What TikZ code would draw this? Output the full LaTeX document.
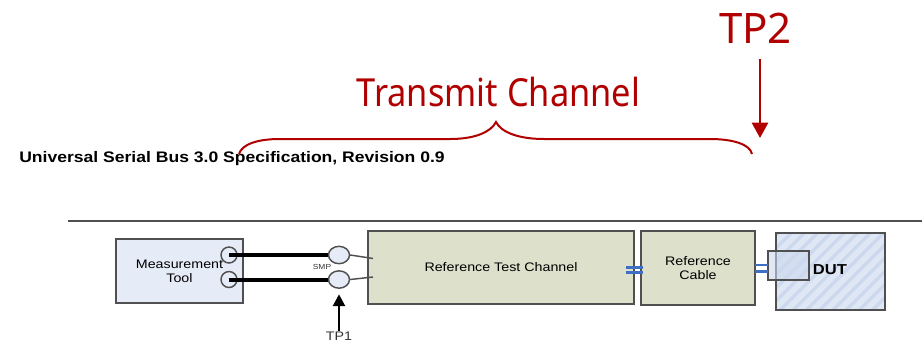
\documentclass[tikz,border=0pt]{standalone}
\usepackage{fontspec}
\setmainfont{Liberation Sans}
\newfontfamily\titlefont{Noto Sans}
\newfontfamily\narrowfont[FakeStretch=0.89]{Noto Sans}
\newfontfamily\widefont[FakeStretch=1.15]{Liberation Sans}
\usetikzlibrary{positioning, arrows.meta, patterns.meta, shapes.geometric}
\definecolor{rojo}{HTML}{B00000}
\definecolor{caja_azul}{HTML}{E6ECF7}
\definecolor{caja_verde}{HTML}{DDE1CB}
\definecolor{caja_dut}{HTML}{DFE7F5}
\definecolor{raya_dut}{HTML}{CBD8EE}
\definecolor{linea_gris}{HTML}{505050}
\definecolor{enlace_azul}{HTML}{3F6FC4}
\tikzset{
    box_tool/.style={rectangle, draw=linea_gris, fill=caja_azul, line width=1.1pt, inner sep=0pt, align=center, font=\widefont\fontsize{9.3}{10.5}\selectfont},
    box_canal/.style={rectangle, draw=linea_gris, fill=caja_verde, line width=1.1pt, inner sep=0pt, align=center, font=\widefont\fontsize{9.3}{10.5}\selectfont},
    box_dut/.style={rectangle, draw=linea_gris, line width=1.1pt, inner sep=0pt, preaction={fill=caja_dut}, pattern={Lines[angle=45, distance=7pt, line width=2.5pt]}, pattern color=raya_dut},
    port_tool/.style={circle, draw=linea_gris, line width=1.1pt, minimum size=12pt, inner sep=0pt},
    port_smp/.style={ellipse, draw=linea_gris, line width=1.1pt, fill=caja_azul, minimum width=15.75pt, minimum height=13pt, inner sep=0pt},
    titulo/.style={text=rojo, inner sep=0pt},
    etiqueta/.style={inner sep=0pt, text=black!80},
    cable/.style={draw=black, line width=3pt},
    hilo/.style={draw=linea_gris, line width=1.1pt},
    enlace/.style={draw=enlace_azul, line width=1.7pt},
    llave/.style={draw=rojo, line width=1.5pt},
    flecha/.style={draw=rojo, line width=2pt, -{Triangle[length=11.5pt, width=12pt]}},
    flecha_tp/.style={draw=black, line width=2pt, shorten >=4pt, -{Triangle[length=9pt, width=9pt]}}
}
\begin{document}
\begin{tikzpicture}[x=0.75pt, y=-0.75pt]
            \useasboundingbox (0,0) rectangle (922,351);

            % header
            \node[titulo, font=\titlefont\fontsize{31.5}{34}\selectfont] (tp2) at (755.5,28) {TP2};
            \node[titulo, anchor=base, font=\narrowfont\fontsize{29}{32}\selectfont] (channel) at (498.5,106) {Transmit Channel};
            \node[inner sep=0pt, anchor=west, font=\widefont\bfseries\fontsize{11.45}{13}\selectfont] (spec) at (19,158.5) {Universal Serial Bus 3.0 Specification, Revision 0.9};

            \coordinate (rule_a) at (68,221);
            \coordinate (rule_b) at (922,221);
            \draw[linea_gris, line width=1pt] (rule_a) -- (rule_b);

            % blocks
            \node[box_tool, minimum width=95pt, minimum height=48pt] (tool) at (179.5,271) {Measurement\\Tool};
            \node[box_canal, minimum width=199.5pt, minimum height=55pt] (canal) at (501,267.5) {Reference Test Channel};
            \node[box_canal, minimum width=85.5pt, minimum height=55.5pt] (cable_ref) at (698,268) {Reference\\Cable};
            \node[box_dut, minimum width=81.75pt, minimum height=57.75pt] (dut) at (830.5,271.5) {};
            \node[rectangle, draw=linea_gris, line width=1.1pt, fill=raya_dut, fill opacity=0.6, minimum width=30.75pt, minimum height=21.75pt, inner sep=0pt] (dut_in) at (788.5,265.5) {};
            \node[inner sep=0pt, font=\widefont\bfseries\fontsize{10.8}{12}\selectfont] (dut_label) at (830,270) {DUT};

            % ports
            \node[port_tool] (p1) at (229,255) {};
            \node[port_tool] (p2) at (229,279.5) {};
            \node[port_smp] (s1) at (339,255) {};
            \node[port_smp] (s2) at (339,279.5) {};
            \node[etiqueta, font=\widefont\fontsize{5.5}{6}\selectfont] (smp) at (322,267) {SMP};
            \node[etiqueta, font=\widefont\fontsize{9.3}{10}\selectfont] (tp1) at (339,336) {TP1};

            \coordinate (c1) at (373,258.5);
            \coordinate (c2) at (373,277);
            \draw[cable] (p1.center) -- (s1.west);
            \draw[cable] (p2.center) -- (s2.west);
            \draw[hilo] (s1.east) -- (c1);
            \draw[hilo] (s2.east) -- (c2);
            \draw[flecha_tp] (tp1.north) -- (s2.south);

            % blue links
            \coordinate (e1a) at (626,267.5);
            \coordinate (e1b) at (643,267.5);
            \coordinate (e2a) at (626,272.5);
            \coordinate (e2b) at (643,272.5);
            \coordinate (e3a) at (755,265);
            \coordinate (e3b) at (768,265);
            \coordinate (e4a) at (755,271.5);
            \coordinate (e4b) at (768,271.5);
            \draw[enlace] (e1a) -- (e1b);
            \draw[enlace] (e2a) -- (e2b);
            \draw[enlace] (e3a) -- (e3b);
            \draw[enlace] (e4a) -- (e4b);

            % brace and TP2 arrow
            \coordinate (b_left) at (239,154);
            \coordinate (b_mid) at (496,122);
            \coordinate (b_right) at (752,154);
            \coordinate (tp2_end) at (760,138);
            \coordinate (tp2_start) at (760,59);
            \draw[llave] (b_left) .. controls (242,144) and (258,139) .. (280,139) -- (450,139) .. controls (475,139) and (491,132) .. (b_mid) .. controls (501,132) and (518,139) .. (544,139) -- (710,139) .. controls (732,139) and (750,144) .. (b_right);
            \draw[flecha] (tp2_start) -- (tp2_end);
        \end{tikzpicture}
\end{document}
